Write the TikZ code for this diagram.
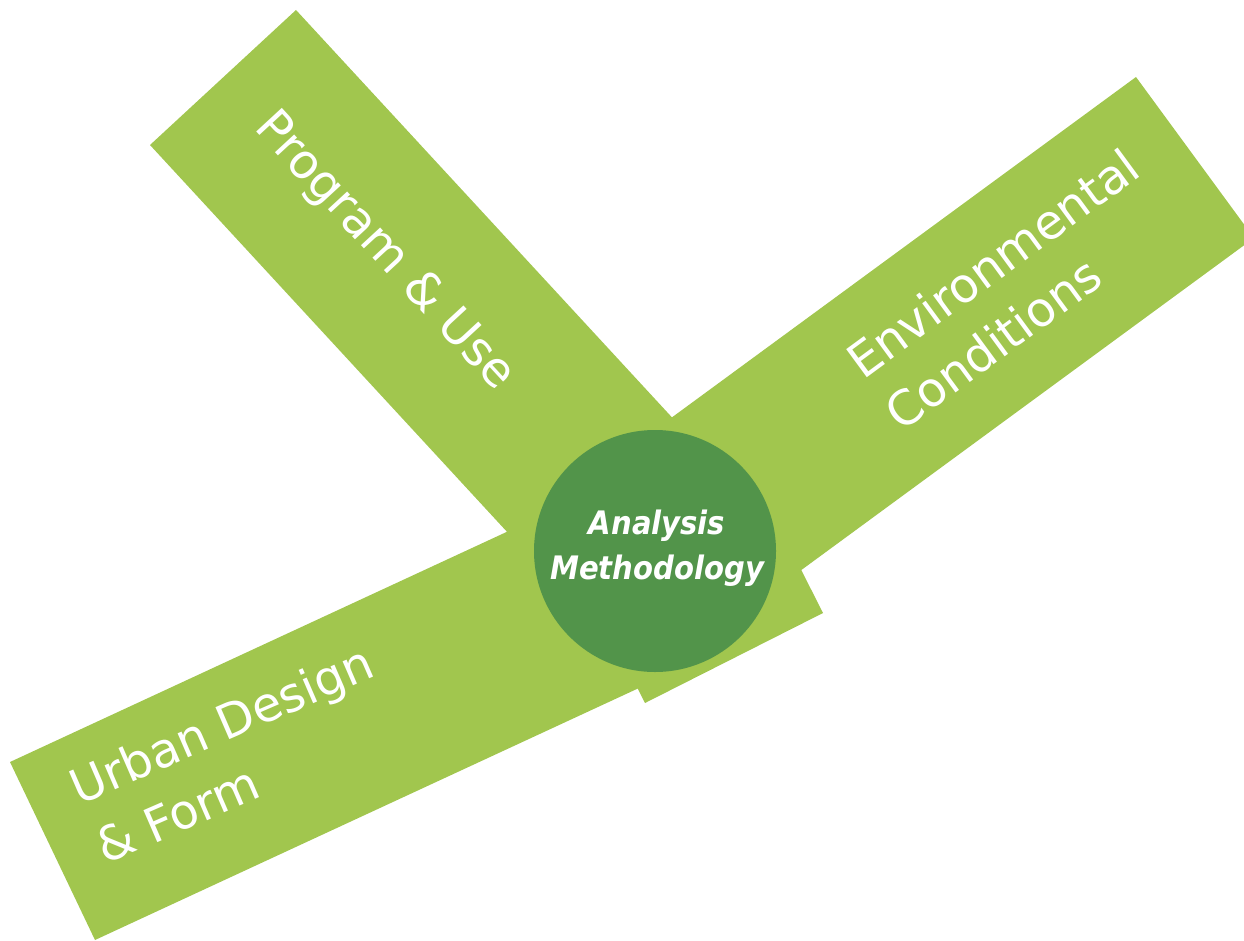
\documentclass[tikz,border=0pt]{standalone}
\usepackage{fontspec}
\setmainfont{DejaVu Sans}
\usepackage{tikz}
\usetikzlibrary{positioning}
\definecolor{armgreen}{RGB}{161,198,78}
\definecolor{hubgreen}{RGB}{82,148,74}

\begin{document}
\begin{tikzpicture}[
	arm/.style={fill=armgreen},
	armtext/.style={text=white,inner sep=0pt,font=\fontsize{13.6}{18.5}\selectfont},
	hub/.style={circle,fill=hubgreen,minimum size=2.42cm,inner sep=0pt},
	hubtext/.style={text=white,inner sep=0pt,align=center,xscale=0.9,transform shape,font=\fontsize{9.2}{12.8}\selectfont\bfseries\itshape}]
	\clip (0,0) rectangle (12.44,9.40);
	\fill[arm] (1.50,7.95) -- (2.96,9.30) -- (7.03,4.89) -- (5.57,3.54) -- cycle;
	\fill[arm] (11.36,8.63) -- (12.54,7.02) -- (7.70,3.47) -- (6.52,5.08) -- cycle;
	\fill[arm] (0.10,1.78) -- (0.95,0.00) -- (6.39,2.52) -- (5.54,4.30) -- cycle;
	\fill[arm] (5.55,4.15) -- (6.45,2.37) -- (8.23,3.27) -- (7.33,5.05) -- cycle;
	\node[hub] at (6.55,3.89) (hub) {};
	\node[hubtext] at (6.57,3.92) (method) {Analysis\\Methodology};
	\node[armtext,rotate=-47.3] at (3.84,6.88) (prog) {Program \& Use};
	\node[armtext,rotate=36.3,align=left] at (10.12,6.51) (env) {Environmental\\Conditions};
	\node[armtext,rotate=23.5,align=left] at (2.34,1.86) (urban) {Urban Design\\\& Form};
\end{tikzpicture}
\end{document}
